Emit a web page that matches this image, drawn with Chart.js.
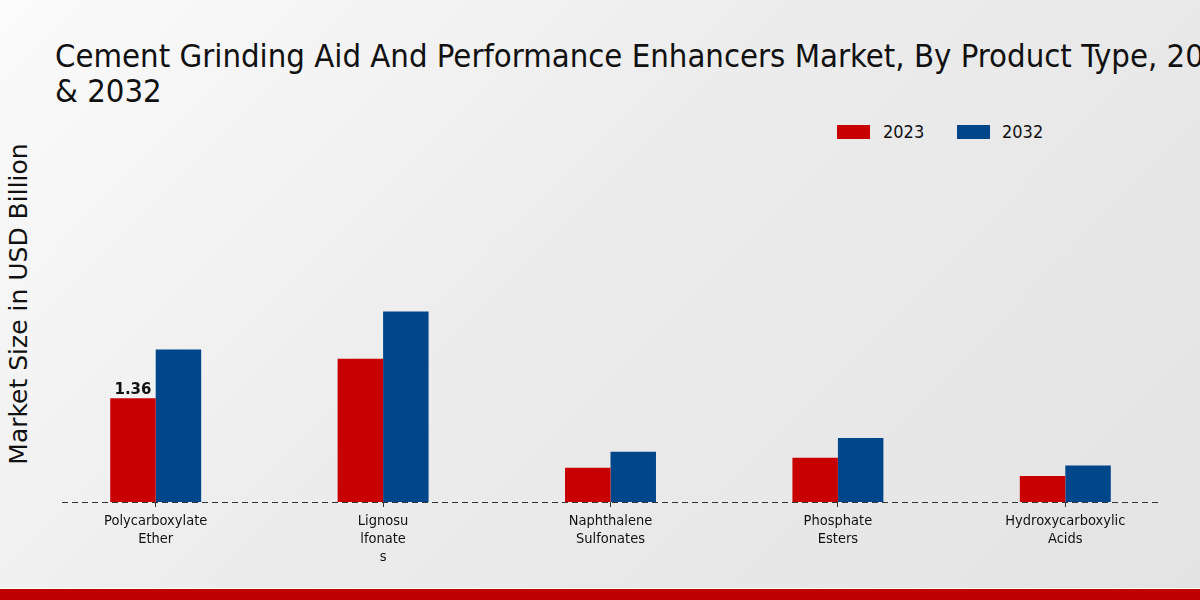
<!DOCTYPE html>
<html>
<head>
<meta charset="utf-8">
<script src="https://cdn.jsdelivr.net/npm/chart.js@4.4.0/dist/chart.umd.min.js"></script>
<style>
  html, body { margin: 0; padding: 0; }
  body {
    width: 1200px; height: 600px; position: relative; overflow: hidden;
    background: linear-gradient(135deg, #fbfbfb 0%, #ececec 45%, #e3e3e3 100%);
    font-family: 'DejaVu Sans Condensed', 'DejaVu Sans', sans-serif;
  }
  #titulo {
    position: absolute; left: 55px; top: 39px; width: 1145px;
    font-size: 32.6px; line-height: 35px; color: #111;
    white-space: nowrap; overflow: hidden;
  }
  #ejeY {
    position: absolute; left: 18px; top: 304px;
    transform: translate(-50%, -50%) rotate(-90deg);
    font-family: 'DejaVu Sans', sans-serif; font-size: 25px; color: #111;
    white-space: nowrap;
  }
  .leyenda { position: absolute; top: 121px; font-size: 18px; color: #111; }
  .caja { position: absolute; top: 125px; width: 33px; height: 14px; }
  #franja { position: absolute; left: 0; bottom: 0; width: 1200px; height: 11px; background: #bd0000; border-top: 1px solid #fff; }
  #grafico { position: absolute; left: 0; top: 0; }
</style>
</head>
<body>
<div id="titulo">Cement Grinding Aid And Performance Enhancers Market, By Product Type, 2023<br>&amp; 2032</div>
<div id="ejeY">Market Size in USD Billion</div>
<div class="caja" style="left:837px; background:#c80000"></div>
<div class="leyenda" style="left:883px">2023</div>
<div class="caja" style="left:957px; background:#00468a"></div>
<div class="leyenda" style="left:1002px">2032</div>
<canvas id="grafico" width="1200" height="600"></canvas>
<div id="franja"></div>
<script>
const categorias = [
  ['Polycarboxylate', 'Ether'],
  ['Lignosu', 'lfonate', 's'],
  ['Naphthalene', 'Sulfonates'],
  ['Phosphate', 'Esters'],
  ['Hydroxycarboxylic', 'Acids']
];
const valores2023 = [1.36, 1.88, 0.45, 0.58, 0.34];
const valores2032 = [2.0, 2.5, 0.66, 0.84, 0.48];

// linea punteada en la base y etiqueta del primer valor
const extras = {
  id: 'extras',
  afterDatasetsDraw(chart) {
    const ctx = chart.ctx;
    const area = chart.chartArea;
    const y0 = chart.scales.y.getPixelForValue(0);
    ctx.save();
    ctx.strokeStyle = '#333';
    ctx.lineWidth = 1;
    ctx.setLineDash([6, 4]);
    ctx.beginPath();
    ctx.moveTo(area.left + 20, y0 + 0.5);
    ctx.lineTo(area.right - 19, y0 + 0.5);
    ctx.stroke();
    ctx.setLineDash([]);

    const barra = chart.getDatasetMeta(0).data[0];
    ctx.fillStyle = '#111';
    ctx.font = 'bold 15px "DejaVu Sans"';
    ctx.textAlign = 'center';
    ctx.textBaseline = 'bottom';
    ctx.fillText(valores2023[0].toFixed(2), barra.x, barra.y - 1);
    ctx.restore();
  }
};

new Chart(document.getElementById('grafico'), {
  type: 'bar',
  data: {
    labels: categorias,
    datasets: [
      { label: '2023', data: valores2023, backgroundColor: '#c80000' },
      { label: '2032', data: valores2032, backgroundColor: '#00468a' }
    ]
  },
  options: {
    responsive: false,
    animation: false,
    layout: { padding: { left: 42, right: 21, top: 159, bottom: 0 } },
    datasets: { bar: { barPercentage: 1, categoryPercentage: 0.4 } },
    plugins: { legend: { display: false }, tooltip: { enabled: false } },
    scales: {
      x: {
        afterFit: (scale) => { scale.height = 98; },
        border: { display: false },
        grid: { offset: false, drawOnChartArea: false, tickLength: 5, color: '#333' },
        ticks: {
          color: '#111',
          padding: 5,
          font: { family: 'DejaVu Sans Condensed', size: 14.5, lineHeight: 1.26 }
        }
      },
      y: { display: false, min: 0, max: 4.5 }
    }
  },
  plugins: [extras]
});
</script>
</body>
</html>
